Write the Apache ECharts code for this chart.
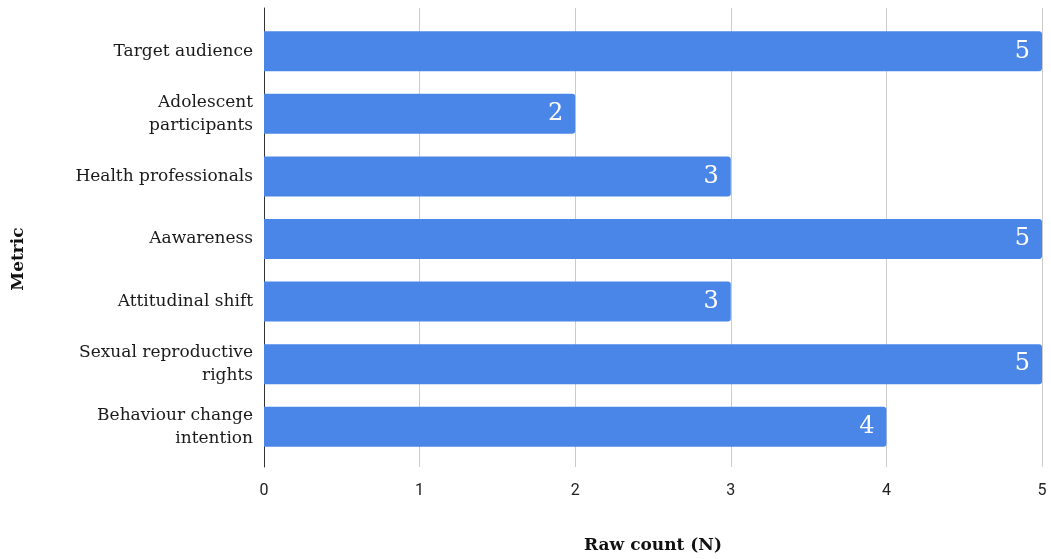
<!DOCTYPE html>
<html>
<head>
<meta charset="utf-8">
<style>
  html, body { margin: 0; padding: 0; background: #ffffff; }
  #chart { width: 1051px; height: 559px; }
</style>
<script src="https://cdn.jsdelivr.net/npm/echarts@6/dist/echarts.min.js"></script>
</head>
<body>
<div id="chart"></div>
<script>
// Metrics reported across the reviewed studies (raw counts)
const categories = [
  'Target audience',
  'Adolescent\nparticipants',
  'Health professionals',
  'Aawareness',
  'Attitudinal shift',
  'Sexual reproductive\nrights',
  'Behaviour change\nintention'
];
const counts = [5, 2, 3, 5, 3, 5, 4];
const xTicks = [0, 1, 2, 3, 4, 5];

const serif = '"DejaVu Serif", serif';
const sans = 'Roboto, "Liberation Sans", sans-serif';

const chart = echarts.init(document.getElementById('chart'), null, { renderer: 'canvas' });

chart.setOption({
  backgroundColor: '#ffffff',
  animation: false,
  grid: [
    // bars
    { left: 264, right: 9, top: 20, bottom: 101, containLabel: false },
    // background grid lines that run a little past the bar bands
    { left: 264, right: 9, top: 8, bottom: 90, containLabel: false }
  ],
  xAxis: [
    {
      gridIndex: 0,
      type: 'value',
      min: xTicks[0],
      max: xTicks[xTicks.length - 1],
      interval: 1,
      axisLine: { show: false },
      axisTick: { show: false },
      splitLine: { show: false },
      axisLabel: { show: false }
    },
    {
      gridIndex: 1,
      type: 'value',
      min: xTicks[0],
      max: xTicks[xTicks.length - 1],
      interval: 1,
      axisLine: { show: false },
      axisTick: { show: false },
      splitLine: { show: true, lineStyle: { color: '#cccccc', width: 1 } },
      axisLabel: {
        show: true,
        margin: 16,
        color: '#222222',
        fontFamily: sans,
        fontSize: 16
      },
      name: 'Raw count (N)',
      nameLocation: 'middle',
      nameGap: 70,
      nameTextStyle: {
        color: '#111111',
        fontFamily: serif,
        fontWeight: 'bold',
        fontSize: 17
      }
    }
  ],
  yAxis: [
    {
      gridIndex: 0,
      type: 'category',
      data: categories,
      inverse: true,
      axisLine: { show: false },
      axisTick: { show: false },
      splitLine: { show: false },
      axisLabel: {
        margin: 11,
        color: '#1a1a1a',
        fontFamily: serif,
        fontSize: 17,
        lineHeight: 23,
        align: 'right'
      }
    },
    {
      gridIndex: 1,
      type: 'value',
      min: 0,
      max: 1,
      axisLine: { show: true, onZero: false, lineStyle: { color: '#333333', width: 1 } },
      axisTick: { show: false },
      splitLine: { show: false },
      axisLabel: { show: false }
    }
  ],
  graphic: [
    {
      // vertical axis title
      type: 'text',
      x: 19,
      y: 259,
      rotation: Math.PI / 2,
      style: {
        text: 'Metric',
        fill: '#111111',
        font: 'bold 17px "DejaVu Serif", serif',
        align: 'center',
        verticalAlign: 'middle'
      }
    }
  ],
  series: [
    {
      type: 'bar',
      xAxisIndex: 0,
      yAxisIndex: 0,
      data: counts,
      barWidth: 40,
      itemStyle: { color: '#4a86e8', borderRadius: [0, 3, 3, 0] },
      label: {
        show: true,
        position: 'insideRight',
        distance: 12,
        color: '#ffffff',
        fontFamily: serif,
        fontSize: 24
      },
      z: 3
    }
  ]
});
</script>
</body>
</html>
